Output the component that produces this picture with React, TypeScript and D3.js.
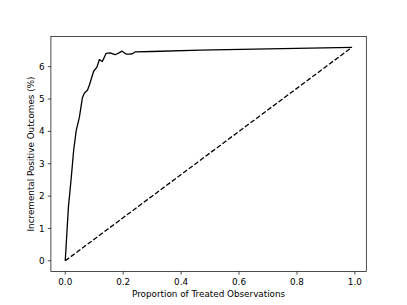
import React from "react";
import * as d3 from "d3";

const curveX = [0, 0.011, 0.021, 0.029, 0.038, 0.049, 0.059, 0.066, 0.077, 0.084, 0.098, 0.109, 0.118, 0.128, 0.141, 0.155, 0.172, 0.184, 0.196, 0.21, 0.222, 0.232, 0.242, 0.3, 0.466, 0.7, 0.99];
const curveY = [0, 1.66, 2.59, 3.41, 4.03, 4.44, 5.03, 5.18, 5.28, 5.45, 5.86, 5.98, 6.22, 6.16, 6.41, 6.43, 6.37, 6.42, 6.48, 6.39, 6.39, 6.4, 6.46, 6.47, 6.51, 6.55, 6.6];
const randomX = [0, 0.99];
const randomY = [0, 6.6];
const xTicks = [0, 0.2, 0.4, 0.6, 0.8, 1.0];
const yTicks = [0, 1, 2, 3, 4, 5, 6];

const W = 407, H = 305;
const L = 50.9, R = 366.3, T = 36.6, B = 271.5;

export default function App() {
  const x = d3.scaleLinear().domain([-0.0495, 1.0395]).range([L, R]);
  const y = d3.scaleLinear().domain([-0.33, 6.93]).range([B, T]);
  const line = d3.line<[number, number]>().x(d => x(d[0])).y(d => y(d[1]));
  const curve = curveX.map((v, i) => [v, curveY[i]] as [number, number]);
  const rnd = randomX.map((v, i) => [v, randomY[i]] as [number, number]);
  const font = "DejaVu Sans, sans-serif";
  const fs = 8.8;
  return (
    <svg width={W} height={H} style={{ position: "absolute", left: 0, top: 0 }}>
      <rect width={W} height={H} fill="#fff" />
      <path d={line(rnd) || ""} fill="none" stroke="#000" strokeWidth={1.3} strokeDasharray="4.9,2.1" />
      <path d={line(curve) || ""} fill="none" stroke="#000" strokeWidth={1.3} strokeLinejoin="round" />
      <rect x={L} y={T} width={R - L} height={B - T} fill="none" stroke="#000" strokeWidth={0.7} />
      {xTicks.map(t => (
        <g key={"x" + t}>
          <line x1={x(t)} x2={x(t)} y1={B} y2={B + 3.1} stroke="#000" strokeWidth={0.7} />
          <text x={x(t)} y={B + 6.2 + 7} textAnchor="middle" fontFamily={font} fontSize={fs}>{t.toFixed(1)}</text>
        </g>
      ))}
      {yTicks.map(t => (
        <g key={"y" + t}>
          <line x1={L - 3.1} x2={L} y1={y(t)} y2={y(t)} stroke="#000" strokeWidth={0.7} />
          <text x={L - 6.2} y={y(t)} dy="0.35em" textAnchor="end" fontFamily={font} fontSize={fs}>{t}</text>
        </g>
      ))}
      <text x={(L + R) / 2} y={297} textAnchor="middle" fontFamily={font} fontSize={fs}>Proportion of Treated Observations</text>
      <text transform={`translate(34,${(T + B) / 2}) rotate(-90)`} textAnchor="middle" fontFamily={font} fontSize={fs}>Incremental Positive Outcomes (%)</text>
    </svg>
  );
}
